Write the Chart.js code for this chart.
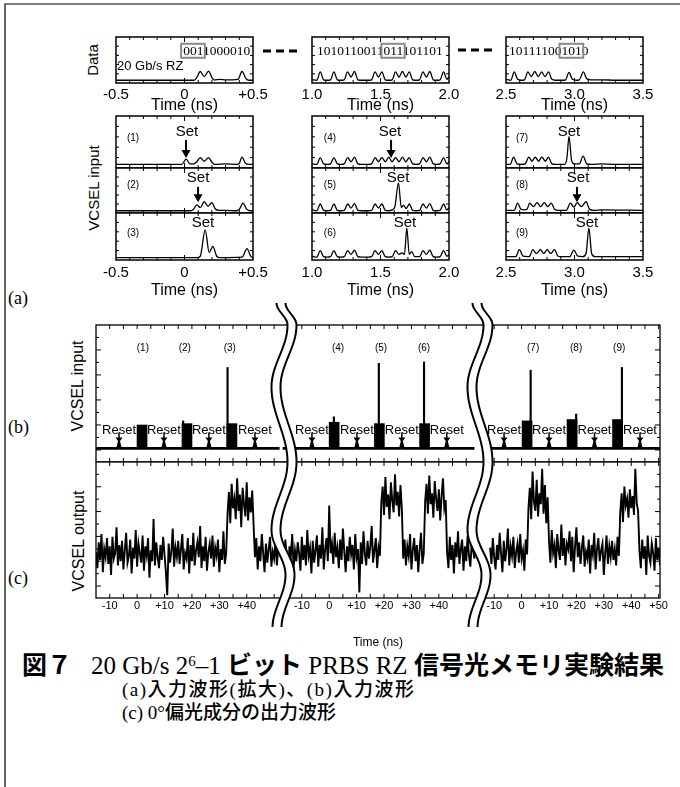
<!DOCTYPE html>
<html><head><meta charset="utf-8">
<script src="https://cdn.jsdelivr.net/npm/chart.js@4.4.1/dist/chart.umd.min.js"></script>
<style>
html,body{margin:0;padding:0;background:#fff;}
#root{position:relative;width:680px;height:787px;overflow:hidden;background:#fff;}
canvas{position:absolute;}
.lbl{position:absolute;font-family:"Liberation Sans",Arial,sans-serif;color:#000;white-space:nowrap;line-height:1;}
.rot{transform:translate(-50%,-50%) rotate(-90deg);}
.pl{position:absolute;font-family:"Liberation Serif","Times New Roman",serif;font-size:18px;line-height:1;transform:translateY(-50%);}
.cap{position:absolute;white-space:nowrap;font-family:"Liberation Serif","Times New Roman",serif;color:#000;}
.jp{font-family:"Noto Sans CJK JP",sans-serif;}
.b{font-weight:700;}
.m{font-weight:500;}
sup{font-size:0.6em;vertical-align:0.55em;line-height:0;}
svg{position:absolute;left:0;top:0;pointer-events:none;}
</style></head>
<body><div id="root">
<div class="lbl rot" style="left:92px;top:60px;font-size:15px;">Data</div>
<div class="lbl rot" style="left:93px;top:188px;font-size:15px;">VCSEL input</div>
<div class="lbl rot" style="left:78px;top:386px;font-size:16px;">VCSEL input</div>
<div class="lbl rot" style="left:79px;top:541px;font-size:16px;">VCSEL output</div>
<div class="pl" style="left:8px;top:298px;">(a)</div>
<div class="pl" style="left:8px;top:427px;">(b)</div>
<div class="pl" style="left:8px;top:578px;">(c)</div>
<div class="cap" style="left:22px;top:651px;font-size:25px;line-height:25px;"><span class="jp b">図７</span><span style="display:inline-block;width:19px"></span>20 Gb/s 2<sup>6</sup>–1 <span class="jp b">ビット</span> PRBS RZ <span class="jp b">信号光メモリ実験結果</span></div>
<div class="cap" style="left:122px;top:678px;font-size:19px;line-height:19px;letter-spacing:1.5px;">(a)<span class="jp m">入力波形</span>(<span class="jp m">拡大</span>)<span class="jp m">、</span>(b)<span class="jp m">入力波形</span></div>
<div class="cap" style="left:122px;top:701px;font-size:19px;line-height:19px;">(c) 0°<span class="jp m">偏光成分の出力波形</span></div>
</div>
<script>
// ================= DATA =================
// (a) top row: data waveforms [time ns, level %]
const dataWave1 = [[-0.5,6],[0.07,6],[0.09,12],[0.115,25],[0.144,14],[0.176,26],[0.2,12],[0.215,7],[0.26,8],[0.3,7],[0.35,7],[0.39,8],[0.42,25],[0.45,9],[0.47,6],[0.5,6]];
const dataWave2 = [[1.0,7],[1.035,6],[1.06,24],[1.085,7],[1.11,6],[1.135,7],[1.16,24],[1.185,7],[1.21,6],[1.235,7],[1.26,24],[1.285,13],[1.31,25],[1.335,7],[1.36,6],[1.41,6],[1.435,7],[1.46,24],[1.485,13],[1.51,24],[1.535,7],[1.56,6],[1.585,7],[1.61,24],[1.635,13],[1.66,25],[1.685,13],[1.71,24],[1.735,7],[1.76,6],[1.785,7],[1.81,24],[1.835,13],[1.86,25],[1.885,7],[1.91,6],[1.935,7],[1.96,24],[1.985,8],[2.0,14]];
const dataWave3 = [[2.5,8],[2.535,6],[2.56,24],[2.585,8],[2.61,6],[2.635,7],[2.66,24],[2.685,14],[2.71,25],[2.735,14],[2.76,24],[2.785,14],[2.81,24],[2.835,8],[2.86,6],[2.91,6],[2.935,7],[2.96,23],[2.985,8],[3.01,6],[3.035,7],[3.065,24],[3.09,9],[3.12,7],[3.2,7],[3.3,6],[3.5,6]];
const dataBitsPre = ["", "1010110011", "10111100"];
const dataBitsBox = ["001", "011", "101"];
const dataBitsPost = ["1000010", "101101", "0"];
const dataBitsT = [-0.01, 1.036, 2.522];
const timeRangesA = [[-0.5, 0.5], [1.0, 2.0], [2.5, 3.5]];
const tickValuesA = [[-0.5, 0, 0.5], [1.0, 1.5, 2.0], [2.5, 3.0, 3.5]];
const tickLabelsA = [["-0.5", "0", "+0.5"], ["1.0", "1.5", "2.0"], ["2.5", "3.0", "3.5"]];

// (a) VCSEL input waveforms (1)..(9)
const inWave1 = [[-0.5,7],[-0.02,7],[0.012,17],[0.04,8],[0.07,8],[0.09,12],[0.115,20],[0.144,13],[0.176,20],[0.2,11],[0.22,7],[0.3,8],[0.38,7],[0.4,9],[0.42,21],[0.445,9],[0.47,7],[0.5,7]];
const inWave2 = [[-0.5,5],[0.04,5],[0.065,8],[0.09,18],[0.115,12],[0.144,25],[0.172,15],[0.2,23],[0.225,9],[0.25,6],[0.3,6],[0.38,5],[0.4,8],[0.427,22],[0.455,8],[0.48,5],[0.5,5]];
const inWave3 = [[-0.5,5],[0.09,5],[0.115,8],[0.151,64],[0.18,16],[0.207,29],[0.235,8],[0.26,5],[0.42,6],[0.456,24],[0.485,7],[0.5,5]];
const inWave4 = [[1.0,8],[1.035,7],[1.06,20],[1.085,8],[1.11,7],[1.135,8],[1.16,20],[1.185,8],[1.21,7],[1.235,8],[1.26,20],[1.285,12],[1.31,21],[1.335,8],[1.36,7],[1.41,7],[1.435,8],[1.46,20],[1.485,12],[1.51,20],[1.535,12],[1.56,21],[1.585,12],[1.61,20],[1.635,12],[1.66,21],[1.685,12],[1.71,20],[1.735,8],[1.76,7],[1.785,8],[1.81,20],[1.835,12],[1.86,21],[1.885,8],[1.91,7],[1.935,8],[1.96,20],[1.985,8],[2.0,13]];
const inWave5 = [[1.0,7],[1.035,5],[1.06,20],[1.085,6],[1.11,5],[1.135,6],[1.16,20],[1.185,6],[1.21,5],[1.235,6],[1.26,20],[1.285,11],[1.31,21],[1.335,6],[1.36,5],[1.41,5],[1.435,6],[1.46,20],[1.485,11],[1.51,20],[1.535,6],[1.56,5],[1.585,7],[1.605,14],[1.631,67],[1.652,12],[1.668,17],[1.688,10],[1.71,20],[1.735,6],[1.76,5],[1.785,6],[1.81,20],[1.835,11],[1.86,21],[1.885,6],[1.91,5],[1.935,6],[1.96,20],[1.985,7],[2.0,12]];
const inWave6 = [[1.0,8],[1.035,6],[1.06,20],[1.085,7],[1.11,6],[1.135,7],[1.16,20],[1.185,7],[1.21,6],[1.235,7],[1.26,20],[1.285,12],[1.31,21],[1.335,7],[1.36,6],[1.41,6],[1.435,7],[1.46,20],[1.485,12],[1.51,20],[1.535,7],[1.56,6],[1.585,7],[1.61,20],[1.635,12],[1.658,15],[1.675,12],[1.692,68],[1.71,12],[1.728,18],[1.75,7],[1.785,7],[1.81,20],[1.835,12],[1.86,21],[1.885,7],[1.91,6],[1.935,7],[1.96,20],[1.985,8],[2.0,12]];
const inWave7 = [[2.5,7],[2.53,7],[2.556,21],[2.58,8],[2.61,7],[2.64,8],[2.666,21],[2.69,13],[2.713,21],[2.738,13],[2.762,21],[2.787,13],[2.81,21],[2.835,8],[2.86,7],[2.93,7],[2.945,20],[2.96,61],[2.978,15],[2.995,8],[3.035,8],[3.063,23],[3.09,8],[3.12,7],[3.2,8],[3.3,7],[3.5,7]];
const inWave8 = [[2.5,6],[2.56,6],[2.585,22],[2.61,8],[2.64,7],[2.655,9],[2.673,22],[2.7,14],[2.727,23],[2.753,14],[2.78,23],[2.805,14],[2.83,22],[2.855,8],[2.88,6],[2.94,6],[2.97,22],[2.995,13],[3.02,23],[3.05,14],[3.085,25],[3.11,8],[3.14,6],[3.2,7],[3.5,6]];
const inWave9 = [[2.5,7],[2.57,7],[2.598,22],[2.625,8],[2.66,7],[2.675,9],[2.695,22],[2.722,14],[2.751,22],[2.775,14],[2.8,22],[2.827,14],[2.854,22],[2.88,8],[2.91,7],[2.965,7],[2.995,21],[3.025,8],[3.06,7],[3.085,15],[3.105,68],[3.125,14],[3.15,7],[3.3,7],[3.5,7]];
const inLabels = ["(1)","(2)","(3)","(4)","(5)","(6)","(7)","(8)","(9)"];
const setHasArrow = [true, true, false, true, false, false, false, true, false];
const setTextT = [0.018, 0.099, 0.135, 1.569, 1.628, 1.679, 2.96, 3.026, 3.091];
const setArrowT = [0.011, 0.099, null, 1.577, null, null, null, 3.018, null];

// (b) VCSEL input, three time windows (local time in ns)
const bBaseline = 10;
const bTrace = [
  [[-15,10],[-7.1,10],[-6.6,14],[-6.1,10],[9.3,10],[9.8,14],[10.3,10],[25.7,10],[26.2,14],[26.7,10],[42.5,10],[43,14],[43.5,10],[52,10]],
  [[-17,10],[-6.8,10],[-6.3,14],[-5.8,10],[9.6,10],[10.1,14],[10.6,10],[26,10],[26.5,14],[27,10],[42.4,10],[42.9,14],[43.4,10],[53,10]],
  [[-11.5,10],[-6.9,10],[-6.4,14],[-5.9,10],[9.5,10],[10,14],[10.5,10],[26.1,10],[26.6,14],[27.1,10],[42.7,10],[43.2,14],[43.7,10],[51,10]]
];
const bBlockT = [[1.8, 18.2, 34.6], [1.8, 18.3, 34.8], [2.0, 18.4, 35.0]];
const bBlockTop = [[27, 28, 28], [29, 28, 28], [30, 31, 31]];
const bSpikeT = [[16.8, 33.0], [1.7, 18.1, 34.6], [3.3, 19.9, 36.6]];
const bSpikeV = [[30, 69], [33, 72, 73], [67, 35, 69]];
const bResetT = [[-6.6, 9.8, 26.2, 43.0], [-6.3, 10.1, 26.5, 42.9], [-6.4, 10.0, 26.6, 43.2]];
const bLabelT = [[2.1, 17.4, 33.8], [3.2, 18.9, 34.6], [4.2, 19.9, 35.6]];
const bTickT = [[-10, 0, 10, 20, 30, 40], [-10, 0, 10, 20, 30, 40], [-10, 0, 10, 20, 30, 40, 50]];

// (c) VCSEL output, sampled every 0.5 ns from cStartT
const cStartT = [-15, -17, -11.5];
const cStep = 0.5;
const cSeg1 = [34,22,41,28,47,19,36,30,44,25,38,17, 45,29,33,52,24,39,27,42,21,35,48,26, 31,43,18,37,29,50,23,40,33,26,46,20,
  38,31,44,15,35,27,58,24,41,30,22,39, 28,45,32,19,2,40,26,34,51,23,37,30, 42,25,36,47,21,33,29,44,18,39,27,48,
  24,35,41,30,53,22,38,27,45,20,34,40, 29,46,23,37,31,43,19,36,28,49,25,33,
  62,78,55,84,66,73,58,88,64,76,52,81,69,60,85,57,74,63,79,54,
  30,44,21,38,27,47,33,19,40,26,36,45,23,34,29,42,24,37];
const cSeg2 = [36,24,43,29,19,38,31,47,22,35,27,41, 33,20,45,28,39,24,50,31,37,18,42,26, 35,46,23,39,29,52,21,36,44,27,68,33,
  40,25,48,30,37,22,43,28,51,34,19,38, 27,45,32,39,21,47,30,36,4,41,25,49, 33,24,42,29,38,53,26,35,44,22,37,31,
  70,82,61,89,67,76,58,85,72,63,91,68,78,60,83,66,
  29,43,24,38,31,47,21,35,44,27,39,19,36,48,25,33,
  71,84,62,90,69,77,59,86,73,64,80,57,75,88,66,72,
  34,22,45,28,39,18,41,30,49,25,36,43,20,38,27,46,31,23,40,35,29];
const cSeg3 = [37,25,44,30,21,39,28,48,33,19,42,27,36,51,24,38,31,45,22,34,40,26,47,29,35,20,43,32,
  66,81,58,93,71,64,87,60,77,69,95,62,83,55,74,
  42,26,50,33,39,22,47,35,28,54,31,44, 24,40,36,49,27,45,19,38,52,30,41,25, 37,46,23,34,29,43,18,39,32,48,21,36,
  44,27,35,40,17,33,46,25,38,30,42,28, 36,24,45,31,
  63,77,56,82,68,73,59,80,66,75,61,95,70,64,
  35,22,43,29,38,17,46,31,26,40,33,20,44,28,37,24,39];

// ================= LAYOUT / DRAWING =================
const root = document.getElementById('root');
Chart.defaults.font.family = '"Liberation Sans", Arial, sans-serif';
Chart.defaults.color = '#000';

const deco = {};
function drawFrame(chart, ctx, f) {
  const a = chart.chartArea, x = chart.scales.x, y = chart.scales.y;
  ctx.strokeStyle = '#000';
  ctx.beginPath();
  for (const [v, len] of f.xt) {
    const px = x.getPixelForValue(v);
    if (px < a.left + 1 || px > a.right - 1) continue;
    ctx.moveTo(px, a.bottom); ctx.lineTo(px, a.bottom - len);
    ctx.moveTo(px, a.top); ctx.lineTo(px, a.top + len);
  }
  for (const [v, len] of f.yt) {
    const py = y.getPixelForValue(v);
    ctx.moveTo(a.left, py); ctx.lineTo(a.left + len, py);
    ctx.moveTo(a.right, py); ctx.lineTo(a.right - len, py);
  }
  ctx.lineWidth = 1; ctx.stroke();
  ctx.lineWidth = f.lw;
  ctx.strokeRect(a.left, a.top, a.right - a.left, a.bottom - a.top);
}
Chart.register({
  id: 'deco',
  beforeDatasetsDraw(chart) {
    const d = deco[chart.canvas.id];
    if (d && d.before) { chart.ctx.save(); d.before(chart, chart.ctx); chart.ctx.restore(); }
  },
  afterDatasetsDraw(chart) {
    const d = deco[chart.canvas.id];
    if (!d) return;
    const ctx = chart.ctx;
    ctx.save();
    if (d.frame) drawFrame(chart, ctx, d.frame);
    if (d.after) d.after(chart, ctx);
    ctx.restore();
  }
});

function makeCanvas(id, left, top, w, h) {
  const cv = document.createElement('canvas');
  cv.id = id; cv.width = w; cv.height = h;
  cv.style.left = left + 'px'; cv.style.top = top + 'px';
  cv.style.width = w + 'px'; cv.style.height = h + 'px';
  root.appendChild(cv);
  return cv;
}

function panelChart(o) {
  const pad = o.pad, area = o.area, axisH = o.axisH || 0;
  const w = area[2] - area[0] + pad[0] + pad[2];
  const h = area[3] - area[1] + pad[1] + axisH;
  const cv = makeCanvas(o.id, area[0] - pad[0], area[1] - pad[1], w, h);
  deco[o.id] = {frame: o.frame, before: o.before, after: o.after};
  const showX = axisH > 0;
  const xTicks = o.xTicks;
  return new Chart(cv, {
    type: 'line',
    data: {datasets: o.datasets},
    options: {
      responsive: false, animation: false, devicePixelRatio: 1, events: [],
      layout: {padding: {left: pad[0], top: pad[1], right: pad[2], bottom: 0}},
      plugins: {legend: {display: false}, tooltip: {enabled: false}},
      scales: {
        x: {
          type: 'linear', min: o.xmin, max: o.xmax, offset: false, display: showX,
          grid: {display: false, drawTicks: false, offset: false}, border: {display: false},
          afterFit: s => { if (showX) s.height = axisH; },
          afterBuildTicks: s => { if (xTicks) s.ticks = xTicks.map(t => ({value: t.v, lab: t.lab})); },
          ticks: {autoSkip: false, maxRotation: 0, minRotation: 0, padding: o.tickPad || 0, font: o.tickFont || {size: 12},
                  callback: (v, i, ts) => (ts[i] && ts[i].lab !== undefined) ? ts[i].lab : ''},
          title: o.title ? {display: true, text: o.title, font: o.titleFont, padding: 0} : {display: false}
        },
        y: {type: 'linear', min: 0, max: 100, display: false}
      }
    }
  });
}

function waveDS(pairs, lw) {
  return {data: pairs.map(p => ({x: p[0], y: p[1]})), borderColor: '#000', borderWidth: lw || 1.3,
          pointRadius: 0, cubicInterpolationMode: 'monotone', fill: false};
}
function smallFrame(tmin) {
  const xt = [];
  for (let k = 1; k < 10; k++) xt.push([tmin + k * 0.1, k === 5 ? 5 : 3]);
  return {lw: 1.5, xt, yt: [[20, 3], [40, 3], [60, 3], [80, 3]]};
}
function txt(ctx, s, x, y, font, align) {
  ctx.font = font; ctx.textAlign = align || 'center'; ctx.textBaseline = 'middle';
  ctx.fillStyle = '#000'; ctx.fillText(s, x, y);
}
function arrow(ctx, x, y1, y2, hw, hh, lw) {
  ctx.strokeStyle = '#000'; ctx.fillStyle = '#000'; ctx.lineWidth = lw;
  ctx.beginPath(); ctx.moveTo(x, y1); ctx.lineTo(x, y2 - hh + 1); ctx.stroke();
  ctx.beginPath(); ctx.moveTo(x - hw, y2 - hh); ctx.lineTo(x + hw, y2 - hh); ctx.lineTo(x, y2); ctx.closePath(); ctx.fill();
}

const colsA = [[116, 253], [312, 449], [506, 643]];
const rowsA = [[116, 168], [168, 213], [213, 260]];
const dataWaves = [dataWave1, dataWave2, dataWave3];
const inWaves = [inWave1, inWave2, inWave3, inWave4, inWave5, inWave6, inWave7, inWave8, inWave9];
const inLabelT = [-0.376, 1.131, 2.617];
const inLabelY = [58, 62, 57];
const setTextY = [69, 78, 79];
const setArrowY = [[54, 19], [58, 24], null];

// top: data panels
for (let c = 0; c < 3; c++) {
  const [x0, x1] = colsA[c];
  const [tmin, tmax] = timeRangesA[c];
  panelChart({
    id: 'data' + c, area: [x0, 37, x1, 83], pad: [25, 2, 25], axisH: 32,
    datasets: [waveDS(dataWaves[c])], xmin: tmin, xmax: tmax,
    xTicks: tickValuesA[c].map((v, i) => ({v, lab: tickLabelsA[c][i]})),
    tickFont: {size: 15}, tickPad: 2.5, title: 'Time (ns)', titleFont: {size: 16},
    frame: smallFrame(tmin),
    after: (ch, ctx) => {
      const xs = ch.scales.x, ys = ch.scales.y;
      const x0p = xs.getPixelForValue(dataBitsT[c]);
      const yc = ys.getPixelForValue(70);
      ctx.font = '13.5px "Liberation Serif", serif';
      const w1 = ctx.measureText(dataBitsPre[c]).width;
      const w2 = ctx.measureText(dataBitsBox[c]).width;
      txt(ctx, dataBitsPre[c] + dataBitsBox[c] + dataBitsPost[c], x0p, yc + 0.5, '13.5px "Liberation Serif", serif', 'left');
      ctx.strokeStyle = '#8a8a8a'; ctx.lineWidth = 2;
      ctx.strokeRect(x0p + w1 - 2, yc - 7, w2 + 3.5, 14);
      if (c === 0) txt(ctx, '20 Gb/s RZ', xs.getPixelForValue(-0.493), ys.getPixelForValue(35), '13px "Liberation Sans", Arial', 'left');
    }
  });
}

// (a) VCSEL input 3x3
for (let c = 0; c < 3; c++) {
  for (let r = 0; r < 3; r++) {
    const idx = c * 3 + r;
    const [x0, x1] = colsA[c];
    const [y0, y1] = rowsA[r];
    const [tmin, tmax] = timeRangesA[c];
    const bottom = r === 2;
    panelChart({
      id: 'in' + idx, area: [x0, y0, x1, y1], pad: [25, 2, 25], axisH: bottom ? 40 : 0,
      datasets: [waveDS(inWaves[idx])], xmin: tmin, xmax: tmax,
      xTicks: tickValuesA[c].map((v, i) => ({v, lab: tickLabelsA[c][i]})),
      tickFont: {size: 15}, tickPad: 3.5, title: bottom ? 'Time (ns)' : null, titleFont: {size: 16},
      frame: smallFrame(tmin),
      after: (ch, ctx) => {
        const xs = ch.scales.x, ys = ch.scales.y;
        txt(ctx, inLabels[idx], xs.getPixelForValue(inLabelT[c]), ys.getPixelForValue(inLabelY[r]), '10px "Liberation Sans", Arial');
        txt(ctx, 'Set', xs.getPixelForValue(setTextT[idx]), ys.getPixelForValue(setTextY[r]), '15px "Liberation Sans", Arial');
        if (setHasArrow[idx]) {
          const ay = setArrowY[r];
          arrow(ctx, xs.getPixelForValue(setArrowT[idx]), ys.getPixelForValue(ay[0]), ys.getPixelForValue(ay[1]), 4.5, 8, 2);
        }
      }
    });
  }
}

// (b) and (c): three windows placed side by side on one axis
const segOffset = [15, 85.1, 155.3];
const segTickRange = [[-15, 50], [-15, 50], [-10, 50]];
const uB = (s, t) => t + segOffset[s];
const bcXT = [];
segTickRange.forEach(([a, b], s) => { for (let t = a; t <= b; t += 5) bcXT.push([uB(s, t), 4]); });
const bcYT = [];
for (let k = 0; k < 5; k++) { bcYT.push([8.8 + 18.25 * k, 5]); bcYT.push([8.8 + 18.25 * k + 9.125, 3]); }

const bLine = [];
bTrace.forEach((seg, s) => {
  if (s) bLine.push({x: uB(s, seg[0][0]) - 0.1, y: null});
  seg.forEach(p => bLine.push({x: uB(s, p[0]), y: p[1]}));
});
const bBlocks = [], bSpikes = [];
bBlockT.forEach((arr, s) => arr.forEach((t, i) => bBlocks.push({x: uB(s, t), y: [bBaseline, bBlockTop[s][i]]})));
bSpikeT.forEach((arr, s) => arr.forEach((t, i) => bSpikes.push({x: uB(s, t), y: [bBaseline, bSpikeV[s][i]]})));
panelChart({
  id: 'panelB', area: [96, 325, 660, 462], pad: [20, 2, 20], axisH: 0,
  datasets: [
    {type: 'line', data: bLine, borderColor: '#000', borderWidth: 2.8, pointRadius: 0, tension: 0, fill: false},
    {type: 'bar', data: bBlocks, backgroundColor: '#000', borderWidth: 0, grouped: false, barThickness: 10},
    {type: 'bar', data: bSpikes, backgroundColor: '#000', borderWidth: 0, grouped: false, barThickness: 1.5}
  ],
  xmin: 0, xmax: 205.8,
  frame: {lw: 1.3, xt: bcXT, yt: bcYT},
  before: (ch, ctx) => {
    const xs = ch.scales.x, ys = ch.scales.y;
    bResetT.forEach((arr, s) => arr.forEach(t => txt(ctx, 'Reset', xs.getPixelForValue(uB(s, t)), ys.getPixelForValue(23.4), '13px "Liberation Sans", Arial')));
  },
  after: (ch, ctx) => {
    const xs = ch.scales.x, ys = ch.scales.y;
    bResetT.forEach((arr, s) => arr.forEach(t => arrow(ctx, xs.getPixelForValue(uB(s, t)), ys.getPixelForValue(21.5), ys.getPixelForValue(14.2), 3.5, 5, 1.5)));
    let n = 0;
    bLabelT.forEach((arr, s) => arr.forEach(t => { txt(ctx, inLabels[n], xs.getPixelForValue(uB(s, t)), ys.getPixelForValue(83), '10px "Liberation Sans", Arial'); n++; }));
  }
});

const cLine = [];
[cSeg1, cSeg2, cSeg3].forEach((vals, s) => {
  if (s) cLine.push({x: uB(s, cStartT[s]) - 0.1, y: null});
  vals.forEach((v, i) => cLine.push({x: uB(s, cStartT[s] + i * cStep), y: v}));
});
const cTicks = [];
bTickT.forEach((arr, s) => arr.forEach(t => cTicks.push({v: uB(s, t), lab: t > 0 ? '+' + t : String(t)})));
panelChart({
  id: 'panelC', area: [96, 462, 660, 598], pad: [20, 2, 20], axisH: 52,
  datasets: [{data: cLine, borderColor: '#000', borderWidth: 1.9, pointRadius: 0, tension: 0, fill: false}],
  xmin: 0, xmax: 205.8, xTicks: cTicks, tickFont: {size: 11}, tickPad: 1,
  title: 'Time (ns)', titleFont: {size: 12},
  frame: {lw: 1.3, xt: bcXT, yt: bcYT}
});

// ================= OVERLAY (breaks, dashes, page frame) =================
const NS = 'http://www.w3.org/2000/svg';
const svg = document.createElementNS(NS, 'svg');
svg.setAttribute('width', 680); svg.setAttribute('height', 787);
function el(name, attrs) { const e = document.createElementNS(NS, name); for (const k in attrs) e.setAttribute(k, attrs[k]); svg.appendChild(e); return e; }
// break-mark shape: successive turning points (y, horizontal offset)
const breakTurns = [[303, -3], [325, 8], [387, -8], [462, 8], [530, -8], [575, 6], [628, -7]];
function wavePts(cx, dx) {
  const pts = [];
  for (let y = 303; y <= 628; y += 2) {
    let k = 0;
    while (k < breakTurns.length - 2 && y > breakTurns[k + 1][0]) k++;
    const [ya, oa] = breakTurns[k], [yb, ob] = breakTurns[k + 1];
    const f = (1 - Math.cos(Math.PI * (y - ya) / (yb - ya))) / 2;
    pts.push([cx + dx + oa + (ob - oa) * f, y]);
  }
  return pts;
}
[284, 480].forEach(cx => {
  const L = wavePts(cx, -4.5), R = wavePts(cx, 4.5);
  const poly = L.concat(R.slice().reverse()).map(p => p.join(',')).join(' ');
  el('polygon', {points: poly, fill: '#fff', stroke: 'none'});
  el('polyline', {points: L.map(p => p.join(',')).join(' '), fill: 'none', stroke: '#000', 'stroke-width': 2});
  el('polyline', {points: R.map(p => p.join(',')).join(' '), fill: 'none', stroke: '#000', 'stroke-width': 2});
});
el('line', {x1: 263, y1: 51, x2: 297, y2: 51, stroke: '#000', 'stroke-width': 3, 'stroke-dasharray': '8,5'});
el('line', {x1: 458, y1: 50, x2: 492, y2: 50, stroke: '#000', 'stroke-width': 3, 'stroke-dasharray': '8,5'});
el('path', {d: 'M5,787 L5,4 L680,4', fill: 'none', stroke: '#000', 'stroke-width': 1.2});
root.appendChild(svg);
</script>
</body></html>
